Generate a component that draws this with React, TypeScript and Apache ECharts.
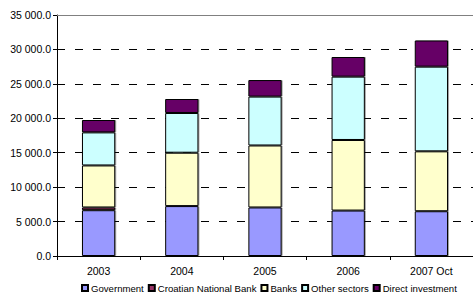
import React, { useEffect, useRef } from "react";
import * as echarts from "echarts";

const categories = ["2003", "2004", "2005", "2006", "2007 Oct"];
const government = [6650, 7250, 7050, 6600, 6500];
const croatianNationalBank = [400, 0, 0, 0, 0];
const banks = [6100, 7750, 9000, 10250, 8700];
const otherSectors = [4800, 5770, 7100, 9200, 12300];
const directInvestment = [1800, 2030, 2400, 2850, 3800];

const seriesDefs = [
  { name: "Government", data: government, color: "#9999FF" },
  { name: "Croatian National Bank", data: croatianNationalBank, color: "#993366" },
  { name: "Banks", data: banks, color: "#FFFFCC" },
  { name: "Other sectors", data: otherSectors, color: "#CCFFFF" },
  { name: "Direct investment", data: directInvestment, color: "#660066" },
];

const fmt = (v: number) => {
  const s = v.toFixed(1);
  const [i, d] = s.split(".");
  return i.replace(/\B(?=(\d{3})+(?!\d))/g, " ") + "." + d;
};

export default function App() {
  const ref = useRef<HTMLDivElement>(null);
  useEffect(() => {
    const chart = echarts.init(ref.current!, null, { renderer: "svg" });
    const font = "'Liberation Sans', Arial, sans-serif";
    chart.setOption({
      animation: false,
      textStyle: { fontFamily: font },
      grid: { left: 57, right: -3, top: 15, bottom: 48 },
      legend: {
        top: 283,
        left: 81,
        width: 420,
        padding: 0,
        itemWidth: 6,
        itemHeight: 6,
        itemGap: 4,
        icon: "rect",
        textStyle: { fontFamily: font, fontSize: 9.6, color: "#000", padding: [0, 0, 0, -2] },
        data: seriesDefs.map((s) => s.name),
      },
      xAxis: [
        {
          type: "category",
          data: categories,
          axisLine: { show: true, lineStyle: { color: "#000", width: 1 } },
          axisTick: { show: true, length: 4, lineStyle: { color: "#000" } },
          axisLabel: { color: "#000", fontSize: 10.5, margin: 9, fontFamily: font },
        },
        {
          type: "category",
          data: categories,
          position: "top",
          axisLine: { show: true, lineStyle: { color: "#808080", width: 1 } },
          axisTick: { show: false },
          axisLabel: { show: false },
        },
      ],
      yAxis: {
        type: "value",
        min: 0,
        max: 35000,
        interval: 5000,
        axisLine: { show: true, lineStyle: { color: "#000" } },
        axisTick: { show: true, length: 4, lineStyle: { color: "#000" } },
        axisLabel: { color: "#000", fontSize: 10.5, margin: 6, formatter: fmt, fontFamily: font },
        splitLine: { show: true, lineStyle: { color: "#000", type: [8, 10], width: 1 } },
      },
      series: seriesDefs.map((s) => ({
        name: s.name,
        type: "bar",
        stack: "total",
        barWidth: "40%",
        data: s.data,
        itemStyle: {
          color: s.color,
          borderColor: "#000",
          borderWidth: 1,
          shadowColor: "rgba(0,0,0,0.35)",
          shadowOffsetX: 1,
          shadowOffsetY: 0,
          shadowBlur: 1,
        },
      })),
    });
    return () => chart.dispose();
  }, []);
  return <div ref={ref} style={{ width: 473, height: 304, position: "absolute", left: 0, top: 0 }} />;
}
